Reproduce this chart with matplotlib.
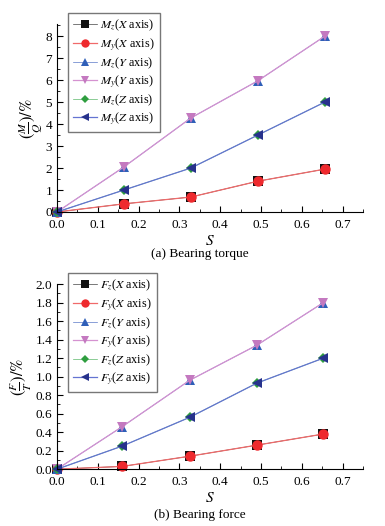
import matplotlib
matplotlib.use('Agg')
import matplotlib.pyplot as plt
from matplotlib.ticker import MultipleLocator, FormatStrFormatter

plt.rcParams['font.family'] = ['Liberation Serif', 'DejaVu Serif']
plt.rcParams['mathtext.fontset'] = 'stix'
plt.rcParams['font.size'] = 9

# Datos del panel (a): par de apoyo
s_a = [0.0, 0.164, 0.328, 0.492, 0.656]
mz_x = [0.0, 0.37, 0.68, 1.40, 1.95]
my_x = [0.0, 0.37, 0.68, 1.40, 1.95]
mz_y = [0.0, 2.05, 4.28, 5.97, 8.00]
my_y = [0.0, 2.05, 4.28, 5.97, 8.00]
mz_z = [0.0, 1.00, 2.00, 3.50, 5.00]
my_z = [0.0, 1.00, 2.00, 3.50, 5.00]

# Datos del panel (b): fuerza de apoyo
s_b = [0.0, 0.160, 0.325, 0.490, 0.653]
fz_x = [0.0, 0.03, 0.14, 0.26, 0.38]
fy_x = [0.0, 0.03, 0.14, 0.26, 0.38]
fz_y = [0.0, 0.46, 0.96, 1.34, 1.80]
fy_y = [0.0, 0.46, 0.96, 1.34, 1.80]
fz_z = [0.0, 0.25, 0.56, 0.93, 1.20]
fy_z = [0.0, 0.25, 0.56, 0.93, 1.20]

# marcador, color del marcador, color de la linea, grosor, tamaño
estilos = [
    ('s', '#111111', '#444444', 0.5, 6.5),
    ('o', '#ee2a2e', '#f06a6a', 0.9, 7.5),
    ('^', '#2f5fb8', '#5a78c8', 0.5, 7.5),
    ('v', '#c479c0', '#d592d0', 0.9, 7.5),
    ('D', '#2f9e3f', '#5cb86a', 0.5, 5.5),
    ('<', '#27328c', '#6474d2', 0.9, 7.5),
]


def panel(ax, s, series, letra, ymax, ymajor, yminor, ylabel, yfmt):
    nombres = [r'$%s_z$($X$ axis)', r'$%s_y$($X$ axis)', r'$%s_z$($Y$ axis)',
               r'$%s_y$($Y$ axis)', r'$%s_z$($Z$ axis)', r'$%s_y$($Z$ axis)']
    for vals, (mk, col, lcol, lw, ms), nom in zip(series, estilos, nombres):
        ax.plot(s, vals, marker=mk, color=lcol, mfc=col, mec=col, lw=lw,
                ms=ms, mew=0, label=nom % letra, clip_on=False)
    ax.set_xlim(0, 0.75)
    ax.set_ylim(0, ymax)
    ax.xaxis.set_major_locator(MultipleLocator(0.1))
    ax.xaxis.set_minor_locator(MultipleLocator(0.05))
    ax.xaxis.set_major_formatter(FormatStrFormatter('%.1f'))
    ax.yaxis.set_major_locator(MultipleLocator(ymajor))
    ax.yaxis.set_minor_locator(MultipleLocator(yminor))
    ax.yaxis.set_major_formatter(FormatStrFormatter(yfmt))
    ax.spines['top'].set_visible(False)
    ax.spines['right'].set_visible(False)
    ax.tick_params(which='both', direction='in', labelsize=9.5)
    ax.tick_params(which='major', length=4)
    ax.tick_params(which='minor', length=2)
    ax.tick_params(axis='x', pad=5)
    ax.set_xlabel(r'$S$', fontsize=11, labelpad=2)
    ax.set_ylabel(ylabel, fontsize=12, labelpad=1)
    ax.legend(loc='upper left', bbox_to_anchor=(0.035, 1.06), fontsize=8.8,
              fancybox=False, edgecolor='#777777', framealpha=1,
              handlelength=2.0, handletextpad=0.25, labelspacing=0.2,
              borderpad=0.4, borderaxespad=0, markerscale=0.8)


fig = plt.figure(figsize=(3.85, 5.26), dpi=100)

ax1 = fig.add_axes([0.148, 0.597, 0.795, 0.357])
panel(ax1, s_a, [mz_x, my_x, mz_y, my_y, mz_z, my_z], 'M', 8.55, 1, 0.5,
      r'$(\frac{M}{Q})/\%$', '%d')
fig.text(0.52, 0.517, '(a) Bearing torque', ha='center', va='center', fontsize=9.5)

ax2 = fig.add_axes([0.148, 0.108, 0.795, 0.352])
panel(ax2, s_b, [fz_x, fy_x, fz_y, fy_y, fz_z, fy_z], 'F', 2.0, 0.2, 0.1,
      r'$(\frac{F}{T})/\%$', '%.1f')
fig.text(0.52, 0.021, '(b) Bearing force', ha='center', va='center', fontsize=9.5)

fig.savefig('out.png', dpi=100)
